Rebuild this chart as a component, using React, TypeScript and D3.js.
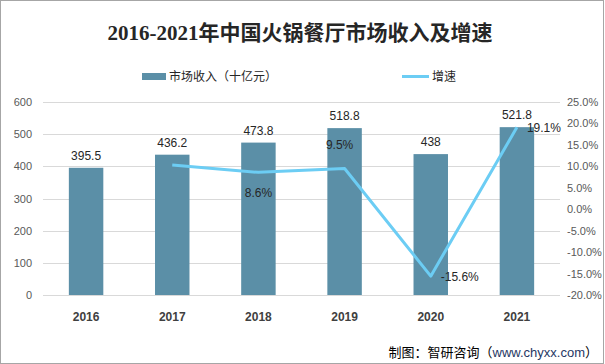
import React from 'react';
import * as d3 from 'd3';

const years = ['2016', '2017', '2018', '2019', '2020', '2021'];
const revenue = [395.5, 436.2, 473.8, 518.8, 438, 521.8];
const growth = [null, 10.3, 8.6, 9.5, -15.6, 19.1];
const growthLabels = ['', '', '8.6%', '9.5%', '-15.6%', '19.1%'];
const leftTicks = [0, 100, 200, 300, 400, 500, 600];
const rightTicks = [-20, -15, -10, -5, 0, 5, 10, 15, 20, 25];

const W = 605;
const H = 364;
const plot = { left: 43, right: 560, top: 102, bottom: 295 };
const barColor = '#5B8FA7';
const lineColor = '#6CCDF4';
const sans = '"Liberation Sans", "Noto Sans CJK SC", sans-serif';
const cjk = '"Noto Sans CJK SC", sans-serif';

// where each growth label sits relative to its point
const labelPlace = ['', '', 'below', 'above', 'right', 'right'];

export default function App() {
  const x = d3
    .scaleBand()
    .domain(years)
    .range([plot.left, plot.right])
    .paddingInner(0.6)
    .paddingOuter(0.3);
  const step = x.step();
  const cx = (y: string) => (x(y) as number) + x.bandwidth() / 2;

  const yL = d3.scaleLinear().domain([0, 600]).range([plot.bottom, plot.top]);
  const yR = d3.scaleLinear().domain([-20, 25]).range([plot.bottom, plot.top]);

  const pts = years
    .map((y, i) => ({ y, v: growth[i], i }))
    .filter((d) => d.v !== null) as { y: string; v: number; i: number }[];

  const line = d3
    .line<{ y: string; v: number }>()
    .x((d) => cx(d.y))
    .y((d) => yR(d.v));

  return (
    <svg
      width={W}
      height={H}
      style={{ position: 'absolute', left: 0, top: 0, background: '#fff' }}
    >
      <rect x={0.5} y={0.5} width={W - 2} height={H - 1} fill="#fff" stroke="#A6A6A6" />

      <text
        x={300}
        y={40}
        textAnchor="middle"
        fontFamily='"Liberation Serif", "Noto Sans CJK SC", serif'
        fontWeight="bold"
        fontSize={21}
        fill="#262626"
      >
        2016-2021年中国火锅餐厅市场收入及增速
      </text>

      {/* legend */}
      <rect x={142} y={73} width={24} height={7} fill={barColor} />
      <text x={169} y={81} fontFamily={cjk} fontSize={12} fill="#262626">
        市场收入（十亿元）
      </text>
      <line x1={402} x2={429} y1={76.5} y2={76.5} stroke={lineColor} strokeWidth={3} />
      <text x={432} y={81} fontFamily={cjk} fontSize={12} fill="#262626">
        增速
      </text>

      {/* grid + axes */}
      {leftTicks.map((t) => (
        <g key={t}>
          <line
            x1={plot.left}
            x2={plot.right}
            y1={Math.round(yL(t)) + 0.5}
            y2={Math.round(yL(t)) + 0.5}
            stroke="#D9D9D9"
          />
          <text
            x={32}
            y={yL(t) + 4}
            textAnchor="end"
            fontFamily={sans}
            fontSize={11}
            fill="#595959"
          >
            {t}
          </text>
        </g>
      ))}
      {rightTicks.map((t) => (
        <text
          key={t}
          x={567}
          y={yR(t) + 4}
          fontFamily={sans}
          fontSize={11}
          fill="#595959"
        >
          {t.toFixed(1) + '%'}
        </text>
      ))}

      {/* bars */}
      {years.map((y, i) => (
        <g key={y}>
          <rect
            x={x(y)}
            y={yL(revenue[i])}
            width={x.bandwidth()}
            height={plot.bottom - yL(revenue[i])}
            fill={barColor}
          />
          <text
            x={cx(y)}
            y={yL(revenue[i]) - 8}
            textAnchor="middle"
            fontFamily={sans}
            fontSize={12}
            fill="#262626"
          >
            {revenue[i]}
          </text>
          <text
            x={cx(y)}
            y={321}
            textAnchor="middle"
            fontFamily={sans}
            fontWeight="bold"
            fontSize={12}
            fill="#404040"
          >
            {y}
          </text>
        </g>
      ))}

      {/* growth line */}
      <path
        d={line(pts) || ''}
        fill="none"
        stroke={lineColor}
        strokeWidth={3}
        strokeLinejoin="round"
      />
      {pts.map((d) => {
        const px = cx(d.y);
        const py = yR(d.v);
        const place = labelPlace[d.i];
        if (!growthLabels[d.i]) return null;
        let lx = px;
        let ly = py;
        let anchor = 'middle';
        if (place === 'below') ly = py + 25;
        if (place === 'above') {
          lx = px - 5;
          ly = py - 19;
        }
        if (place === 'right') {
          lx = px + 10;
          ly = py + 5;
          anchor = 'start';
        }
        return (
          <text
            key={d.y}
            x={lx}
            y={ly}
            textAnchor={anchor}
            fontFamily={sans}
            fontSize={12}
            fill="#262626"
          >
            {growthLabels[d.i]}
          </text>
        );
      })}

      {/* source */}
      <text x={598} y={357} textAnchor="end" fontFamily={cjk} fontSize={13} fill="#000">
        制图：智研咨询（<tspan fill="#1F3864" fontFamily={sans}>www.chyxx.com</tspan>）
      </text>
      {void step}
    </svg>
  );
}
